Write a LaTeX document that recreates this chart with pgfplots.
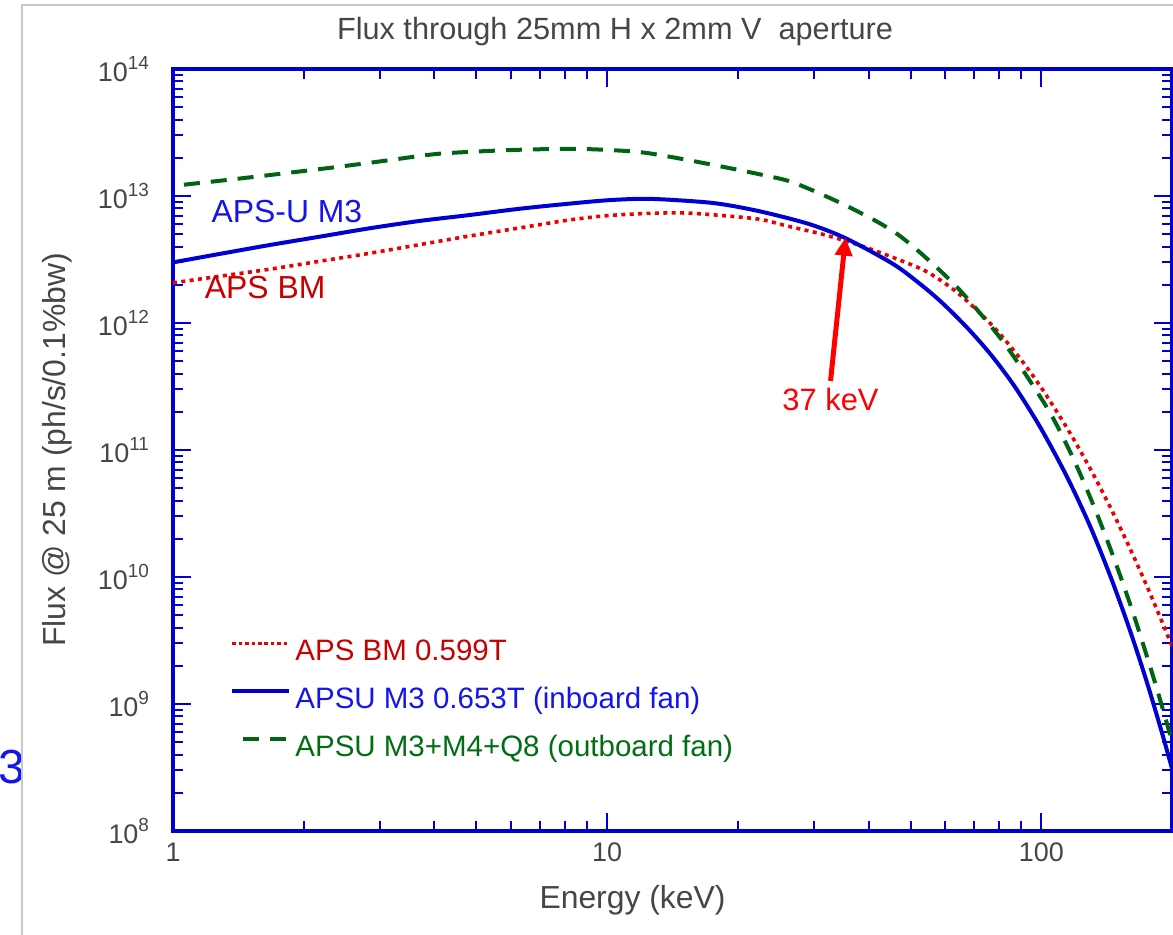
\documentclass[border=0pt]{standalone}
\usepackage{fontspec}
\setmainfont{Liberation Sans}
\usepackage{pgfplots}
\pgfplotsset{compat=1.18}
\usetikzlibrary{arrows.meta}

\definecolor{axblue}{RGB}{0,0,210}
\definecolor{lnred}{RGB}{235,0,0}
\definecolor{lngreen}{RGB}{0,100,20}
\definecolor{txtgray}{RGB}{70,70,70}
\definecolor{txtred}{RGB}{200,0,0}
\definecolor{txtblue}{RGB}{20,20,235}
\definecolor{txtgreen}{RGB}{0,110,20}

\newcommand{\tp}[1]{10\raisebox{6bp}{\fontsize{9.5}{10}\selectfont #1}}

\begin{document}
\begin{tikzpicture}
\begin{axis}[
    name=ax,
    xmode=log, ymode=log,
    scale only axis,
    width=499.5bp, height=381bp,
    xmin=1, xmax=200, ymin=1e8, ymax=1e14,
    axis line style={axblue, line width=1.7bp},
    every tick/.style={axblue, line width=1bp},
    major tick length=9bp, minor tick length=5bp,
    tick align=inside,
    xtick={1,10,100}, xticklabels={1,10,100},
    minor xtick={2,3,4,5,6,7,8,9,20,30,40,50,60,70,80,90},
    ytick={1e8,1e9,1e10,1e11,1e12,1e13,1e14},
    yticklabels={\tp{8},\tp{9},\tp{10},\tp{11},\tp{12},\tp{13},\tp{14}},
    minor ytick={2e8,3e8,4e8,5e8,6e8,7e8,8e8,9e8,
                 2e9,3e9,4e9,5e9,6e9,7e9,8e9,9e9,
                 2e10,3e10,4e10,5e10,6e10,7e10,8e10,9e10,
                 2e11,3e11,4e11,5e11,6e11,7e11,8e11,9e11,
                 2e12,3e12,4e12,5e12,6e12,7e12,8e12,9e12,
                 2e13,3e13,4e13,5e13,6e13,7e13,8e13,9e13},
    ticklabel style={font=\fontsize{13.5}{15}\selectfont, text=txtgray},
    xticklabel style={yshift=-2.5bp},
    yticklabel style={xshift=-8.5bp},
    xlabel={Energy (keV)},
    ylabel={Flux @ 25 m (ph/s/0.1\%bw)},
    label style={font=\fontsize{16}{18}\selectfont, text=txtgray},
    xlabel style={at={(axis description cs:0.46,-0.0906)}, anchor=center},
    ylabel style={at={(axis description cs:-0.116,0.5)}, anchor=center},
    legend cell align=left,
    legend image code/.code={\draw[#1] (0bp,5bp) -- (28.5bp,5bp);},
    legend style={draw=none, fill=none, inner sep=0pt,
        at={(axis description cs:0.0571,0.2507)}, anchor=north west,
        row sep=11bp, column sep=2bp,
        font=\fontsize{14.8}{16}\selectfont,
        nodes={inner sep=0pt, text height=10bp, text depth=3bp}},
]

% APS BM 0.599T
\addplot[lnred, line width=1.8bp, dash pattern=on 2bp off 2.2bp, smooth,
    legend image post style={line width=1.3bp, dash pattern=on 1.8bp off 1.4bp}] coordinates {
(1,2.07e12) (1.3,2.35e12) (1.67,2.65e12) (2.2,3.08e12) (2.84,3.54e12)
(3.7,4.14e12) (4.82,4.84e12) (6.3,5.61e12) (8.18,6.47e12) (10,7.0e12)
(12.5,7.3e12) (15,7.35e12) (17.8,7.08e12) (22.4,6.56e12) (26,5.8e12)
(31.8,4.93e12) (40,3.87e12) (52.2,2.72e12) (58,2.22e12) (64.4,1.71e12)
(72,1.21e12) (80,8.32e11) (90,5.09e11) (100,3.09e11) (115,1.46e11)
(130,7.0e10) (145,3.4e10) (160,1.68e10) (175,8.5e9) (190,4.38e9) (200,2.85e9)
};
\addlegendentry{\textcolor{txtred}{APS BM 0.599T}}

% APSU M3 0.653T
\addplot[axblue, line width=2bp, smooth] coordinates {
(1,3.0e12) (1.3,3.53e12) (1.67,4.11e12) (2.2,4.81e12) (2.84,5.57e12)
(3.7,6.36e12) (4.82,7.08e12) (6.3,7.94e12) (8.18,8.7e12) (10,9.25e12)
(12,9.5e12) (14,9.33e12) (17.8,8.75e12) (22.4,7.59e12) (29.1,6.03e12)
(35.4,4.65e12) (45.3,2.95e12) (52,2.09e12) (59,1.45e12) (68,8.93e11)
(76.9,5.52e11) (87,3.13e11) (100,1.46e11) (115,6.0e10) (130,2.44e10)
(145,9.66e9) (160,3.8e9) (175,1.49e9) (190,5.8e8) (200,3.1e8)
};
\addlegendentry{\textcolor{txtblue}{APSU M3 0.653T (inboard fan)}}

% APSU M3+M4+Q8
\addplot[lngreen, line width=2bp, dash pattern=on 8bp off 5.5bp, dash phase=8bp, smooth] coordinates {
(1,1.2e13) (1.5,1.4e13) (2.38,1.69e13) (3.1,1.9e13) (4.04,2.14e13)
(5.3,2.26e13) (6.87,2.33e13) (8.93,2.34e13) (11.66,2.23e13) (13.9,2.04e13)
(17.8,1.74e13) (22.9,1.46e13) (27.1,1.26e13) (36,8.2e12) (46.9,4.93e12)
(62.2,2.11e12) (76.9,9.25e11) (87,5.25e11) (103.8,2.07e11) (115,1.06e11)
(123.8,6.12e10) (135,3.01e10) (147.7,1.34e10) (160,6.18e9) (167.1,3.94e9)
(180,1.75e9) (190,9.4e8) (200,5.06e8)
};
\addlegendentry{\textcolor{txtgreen}{APSU M3+M4+Q8 (outboard fan)}}

\node[text=txtblue, font=\fontsize{16}{18}\selectfont] at (axis cs:1.83,7.6e12) {APS-U M3};
\node[text=txtred, font=\fontsize{16}{18}\selectfont] at (axis cs:1.63,1.89e12) {APS BM};
\node[text=red, font=\fontsize{15.5}{17}\selectfont] at (axis cs:32.7,2.5e11) {37 keV};
\draw[red, line width=2.5bp, -{Triangle[length=9bp,width=8.5bp]}]
    (axis cs:32.7,3.5e11) -- (axis cs:35.4,4.7e12);
\end{axis}

\node[text=txtgray, font=\fontsize{15.4}{17}\selectfont]
    at ([shift={(221bp,399.5bp)}]ax.south west) {Flux through 25mm H x 2mm V\ \ aperture};
\node[text=txtblue, font=\fontsize{24}{26}\selectfont]
    at ([shift={(-80.5bp,32bp)}]ax.south west) {3};
\draw[black!22, line width=0.8bp]
    ([shift={(-75.5bp,-52bp)}]ax.south west) -- ([shift={(-75.5bp,413bp)}]ax.south west)
    -- ([shift={(500bp,413bp)}]ax.south west);

\pgfresetboundingbox
\path[use as bounding box] ([shift={(-86.5bp,-52bp)}]ax.south west)
    rectangle ([shift={(500bp,415.5bp)}]ax.south west);
\end{tikzpicture}
\end{document}
